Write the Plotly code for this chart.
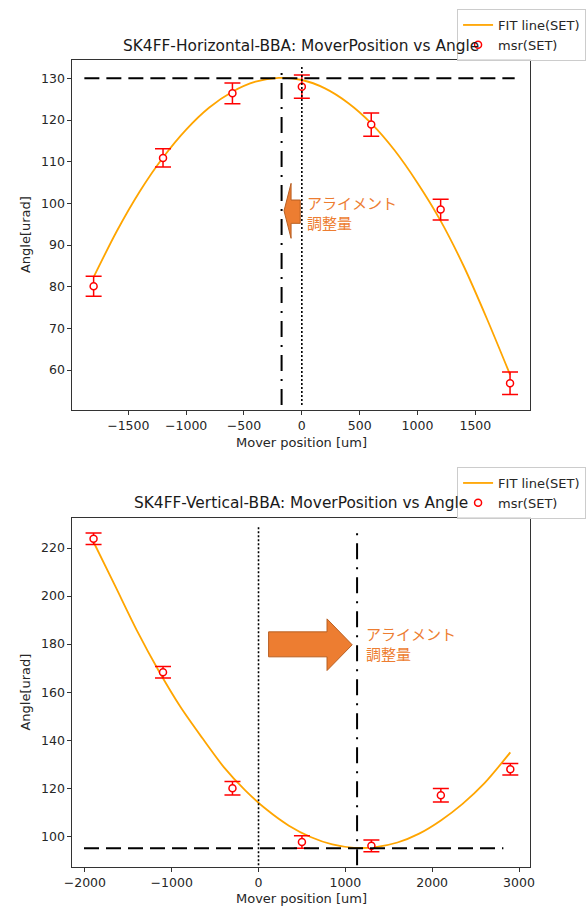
import plotly.graph_objects as go

# ---------------- data ----------------
# Top: horizontal BBA
h_pos = [-1800, -1200, -600, 0, 600, 1200, 1800]
h_angle = [80.1, 110.9, 126.4, 128.0, 118.9, 98.5, 56.8]
h_err = [2.4, 2.2, 2.5, 2.8, 2.8, 2.5, 2.7]
h_fit_x = [-1800, -1600, -1400, -1200, -1000, -800, -600, -400, -200,
           0, 200, 400, 600, 800, 1000, 1200, 1400, 1600, 1800]
h_fit_y = [82.3, 93.3, 102.9, 111.0, 117.7, 123.0, 126.8, 129.2, 130.1,
           129.6, 127.6, 124.1, 119.2, 112.8, 104.9, 95.8, 84.9, 72.3, 58.9]
h_level = 130
h_level_span = [-1880, 1840]
h_center = -175
h_vline_span = [51.6, 132.8]

# Bottom: vertical BBA
v_pos = [-1900, -1100, -300, 500, 1300, 2100, 2900]
v_angle = [223.9, 168.3, 120.0, 97.6, 96.0, 117.1, 127.9]
v_err = [2.4, 2.4, 2.8, 2.6, 2.4, 2.8, 2.4]
v_fit_x = [-1900, -1650, -1400, -1150, -900, -650, -400, -150, 100, 350, 600,
           850, 1100, 1350, 1600, 1850, 2100, 2350, 2600, 2900]
v_fit_y = [222.5, 204.1, 185.6, 168.9, 153.9, 141.0, 128.8, 119.0, 110.9, 104.4, 99.7,
           96.6, 95.2, 95.5, 97.4, 101.1, 106.6, 113.5, 122.0, 134.9]
v_level = 95
v_level_span = [-2010, 2820]
v_center = 1135
v_vline_span = [87.9, 229.0]

titles = ["SK4FF-Horizontal-BBA: MoverPosition vs Angle",
          "SK4FF-Vertical-BBA: MoverPosition vs Angle"]
x_label = "Mover position [um]"
y_label = "Angle[urad]"
note_text = "アライメント<br>調整量"
legend_names = ["FIT line(SET)", "msr(SET)"]

W, H = 588, 906
FONT = "DejaVu Sans, sans-serif"
JFONT = "Noto Sans CJK JP, sans-serif"
ORANGE = "#ED7D31"

def px(x):
    return x / W

def py(y):
    return 1 - y / H

fig = go.Figure()

panels = [
    dict(xa="x", ya="y", pos=h_pos, ang=h_angle, err=h_err, fx=h_fit_x, fy=h_fit_y,
         lvl=h_level, lspan=h_level_span, c=h_center, vspan=h_vline_span, legend="legend"),
    dict(xa="x2", ya="y2", pos=v_pos, ang=v_angle, err=v_err, fx=v_fit_x, fy=v_fit_y,
         lvl=v_level, lspan=v_level_span, c=v_center, vspan=v_vline_span, legend="legend2"),
]

for p in panels:
    fig.add_trace(go.Scatter(x=p["fx"], y=p["fy"], mode="lines", name=legend_names[0],
                             line=dict(color="#FFA500", width=1.8, shape="spline", smoothing=0.8),
                             xaxis=p["xa"], yaxis=p["ya"], legend=p["legend"]))
    fig.add_trace(go.Scatter(x=p["pos"], y=p["ang"], mode="markers", name=legend_names[1],
                             marker=dict(symbol="circle", size=7, color="white",
                                         line=dict(color="red", width=1.5)),
                             error_y=dict(type="data", array=p["err"], visible=True,
                                          color="red", thickness=1.5, width=8),
                             xaxis=p["xa"], yaxis=p["ya"], legend=p["legend"]))
    # horizontal dashed level
    fig.add_trace(go.Scatter(x=p["lspan"], y=[p["lvl"], p["lvl"]], mode="lines",
                             line=dict(color="black", width=2, dash="15px,7px"),
                             showlegend=False, hoverinfo="skip",
                             xaxis=p["xa"], yaxis=p["ya"]))
    # dotted zero line
    fig.add_trace(go.Scatter(x=[0, 0], y=p["vspan"], mode="lines",
                             line=dict(color="black", width=1.6, dash="2px,2px"),
                             showlegend=False, hoverinfo="skip",
                             xaxis=p["xa"], yaxis=p["ya"]))
    # dash-dot centre line
    fig.add_trace(go.Scatter(x=[p["c"], p["c"]], y=p["vspan"], mode="lines",
                             line=dict(color="black", width=2, dash="16px,8px,2px,8px"),
                             showlegend=False, hoverinfo="skip",
                             xaxis=p["xa"], yaxis=p["ya"]))

axis_common = dict(showgrid=False, zeroline=False, showline=True, mirror=True,
                   linecolor="#333", linewidth=1, ticks="outside", ticklen=4,
                   tickcolor="#333", tickfont=dict(family=FONT, size=12.5, color="#262626"))

legend_common = dict(xanchor="left", yanchor="top",
                     bgcolor="rgba(255,255,255,0.85)", bordercolor="#cccccc", borderwidth=1,
                     font=dict(family=FONT, size=13, color="#262626"), tracegroupgap=0)

fig.update_layout(
    width=W, height=H,
    margin=dict(l=0, r=0, t=0, b=0),
    paper_bgcolor="white", plot_bgcolor="white",
    xaxis=dict(domain=[px(65), px(534)], anchor="y", range=[-1983, 1975], dtick=500, **axis_common),
    yaxis=dict(domain=[py(410), py(60)], anchor="x", range=[50.4, 134.4], dtick=10, **axis_common),
    xaxis2=dict(domain=[px(65), px(534)], anchor="y2", range=[-2143, 3130], dtick=1000, **axis_common),
    yaxis2=dict(domain=[py(867), py(518)], anchor="x2", range=[87.2, 232.5], dtick=20, **axis_common),
    legend=dict(x=px(459), y=py(9), **legend_common),
    legend2=dict(x=px(459), y=py(467), **legend_common),
    showlegend=True,
)

annotations = []
# titles
for t, yc in zip(titles, [46, 503]):
    annotations.append(dict(text=t, x=px(299.5), y=py(yc), xref="paper", yref="paper",
                            showarrow=False, xanchor="center", yanchor="middle",
                            font=dict(family=FONT, size=15.4, color="#1a1a1a")))
# axis labels
for yc in [443, 898]:
    annotations.append(dict(text=x_label, x=px(299.5), y=py(yc), xref="paper", yref="paper",
                            showarrow=False, xanchor="center", yanchor="middle",
                            font=dict(family=FONT, size=13, color="#262626")))
for yc in [235, 692.5]:
    annotations.append(dict(text=y_label, x=px(16.5), y=py(yc), xref="paper", yref="paper",
                            showarrow=False, xanchor="center", yanchor="middle", textangle=-90,
                            font=dict(family=FONT, size=13, color="#262626")))
# arrow notes
annotations.append(dict(text=note_text, x=30, y=97.7, xref="x", yref="y", showarrow=False,
                        xanchor="left", yanchor="middle", align="left",
                        font=dict(family=JFONT, size=15, color=ORANGE)))
annotations.append(dict(text=note_text, x=1220, y=180.1, xref="x2", yref="y2", showarrow=False,
                        xanchor="left", yanchor="middle", align="left",
                        font=dict(family=JFONT, size=15, color=ORANGE)))
fig.update_layout(annotations=annotations)

# block arrows (decoration)
def arrow_path(tip_x, tip_y, head_x, tail_x, body_top, body_bot, head_top, head_bot):
    return (f"M {tip_x},{tip_y} L {head_x},{head_top} L {head_x},{body_top} "
            f"L {tail_x},{body_top} L {tail_x},{body_bot} L {head_x},{body_bot} "
            f"L {head_x},{head_bot} Z")

fig.add_shape(type="path", xref="x", yref="y",
              path=arrow_path(-154, 98.2, -93, -14, 100.8, 95.2, 104.8, 91.6),
              fillcolor=ORANGE, line=dict(color="#B85F22", width=1))
fig.add_shape(type="path", xref="x2", yref="y2",
              path=arrow_path(1079, 179.7, 789, 116, 185.1, 174.7, 190.5, 169.0),
              fillcolor=ORANGE, line=dict(color="#B85F22", width=1))

fig.write_html("out.html", config={"displayModeBar": False},
               post_script="document.body.style.margin='0px';document.body.style.overflow='hidden';")
